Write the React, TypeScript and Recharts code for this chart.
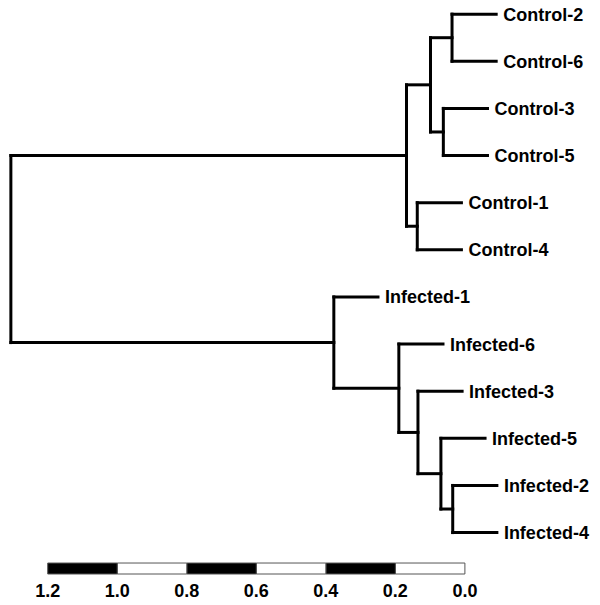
import { ScatterChart, Scatter, XAxis, YAxis, ReferenceLine, ReferenceArea } from 'recharts';

// leaf order top to bottom
const leaves = [
  'Control-2', 'Control-6', 'Control-3', 'Control-5', 'Control-1', 'Control-4',
  'Infected-1', 'Infected-6', 'Infected-3', 'Infected-5', 'Infected-2', 'Infected-4',
];

// linkage rows: [childA, childB, height]; ids >= 12 are earlier merges
const linkage: [number, number, number][] = [
  [0, 1, 0.037],
  [2, 3, 0.062],
  [12, 13, 0.099],
  [4, 5, 0.137],
  [14, 15, 0.168],
  [10, 11, 0.035],
  [9, 17, 0.069],
  [8, 18, 0.135],
  [7, 19, 0.19],
  [6, 20, 0.377],
  [16, 21, 1.306],
];

const leafStub = 0.127;
const scaleTicks = [0, 0.2, 0.4, 0.6, 0.8, 1.0, 1.2];
const barTop = 11.646;
const barBottom = 11.879;

const FONT = '"Liberation Sans", Arial, sans-serif';

type Seg = { x1: number; y1: number; x2: number; y2: number };

function buildTree() {
  const n = leaves.length;
  const ys: number[] = leaves.map((_, i) => i);
  const hs: number[] = leaves.map(() => 0);
  const segs: Seg[] = [];
  const leafEnds: { name: string; x: number; y: number }[] = [];
  linkage.forEach(([a, b, h], k) => {
    const id = n + k;
    ys[id] = (ys[a] + ys[b]) / 2;
    hs[id] = h;
    segs.push({ x1: h, y1: ys[a], x2: h, y2: ys[b] });
    [a, b].forEach((c) => {
      const end = c < n ? h - leafStub : hs[c];
      segs.push({ x1: h, y1: ys[c], x2: end, y2: ys[c] });
      if (c < n) leafEnds.push({ name: leaves[c], x: end, y: ys[c] });
    });
  });
  return { segs, leafEnds };
}

const { segs, leafEnds } = buildTree();

const bars = scaleTicks.slice(0, -1).map((t, i) => ({
  x1: t,
  x2: scaleTicks[i + 1],
  fill: i % 2 === 1 ? '#000' : '#fff',
}));

function LeafLabel(props: any) {
  const { cx, cy, payload } = props;
  return (
    <text x={cx + 7} y={cy} dy={6.5} fontFamily={FONT} fontSize={18} fontWeight="bold" fill="#000">
      {payload.name}
    </text>
  );
}

export default function App() {
  return (
    <div style={{ position: 'absolute', left: 0, top: 0, background: '#fff' }}>
      <ScatterChart width={600} height={605} margin={{ top: 0, right: 3, left: 6, bottom: 0 }}>
        <XAxis
          type="number"
          dataKey="x"
          domain={[-0.38, 1.32]}
          allowDataOverflow
          reversed
          ticks={scaleTicks}
          interval={0}
          tickFormatter={(v) => Number(v).toFixed(1)}
          axisLine={false}
          tickLine={false}
          tickMargin={3}
          height={30}
          tick={{ fontSize: 18, fontWeight: 'bold', fill: '#000', fontFamily: FONT }}
        />
        <YAxis type="number" dataKey="y" domain={[-0.3, 11.9]} allowDataOverflow reversed hide />
        {bars.map((b, i) => (
          <ReferenceArea
            key={'bar' + i}
            x1={b.x1}
            x2={b.x2}
            y1={barTop}
            y2={barBottom}
            fill={b.fill}
            fillOpacity={1}
            stroke="#555"
            strokeWidth={1}
            ifOverflow="visible"
          />
        ))}
        {segs.map((s, i) => (
          <ReferenceLine
            key={'seg' + i}
            segment={[{ x: s.x1, y: s.y1 }, { x: s.x2, y: s.y2 }]}
            stroke="#000"
            strokeWidth={3}
            strokeLinecap="square"
            ifOverflow="visible"
          />
        ))}
        <Scatter data={leafEnds} shape={LeafLabel} isAnimationActive={false} />
      </ScatterChart>
    </div>
  );
}
